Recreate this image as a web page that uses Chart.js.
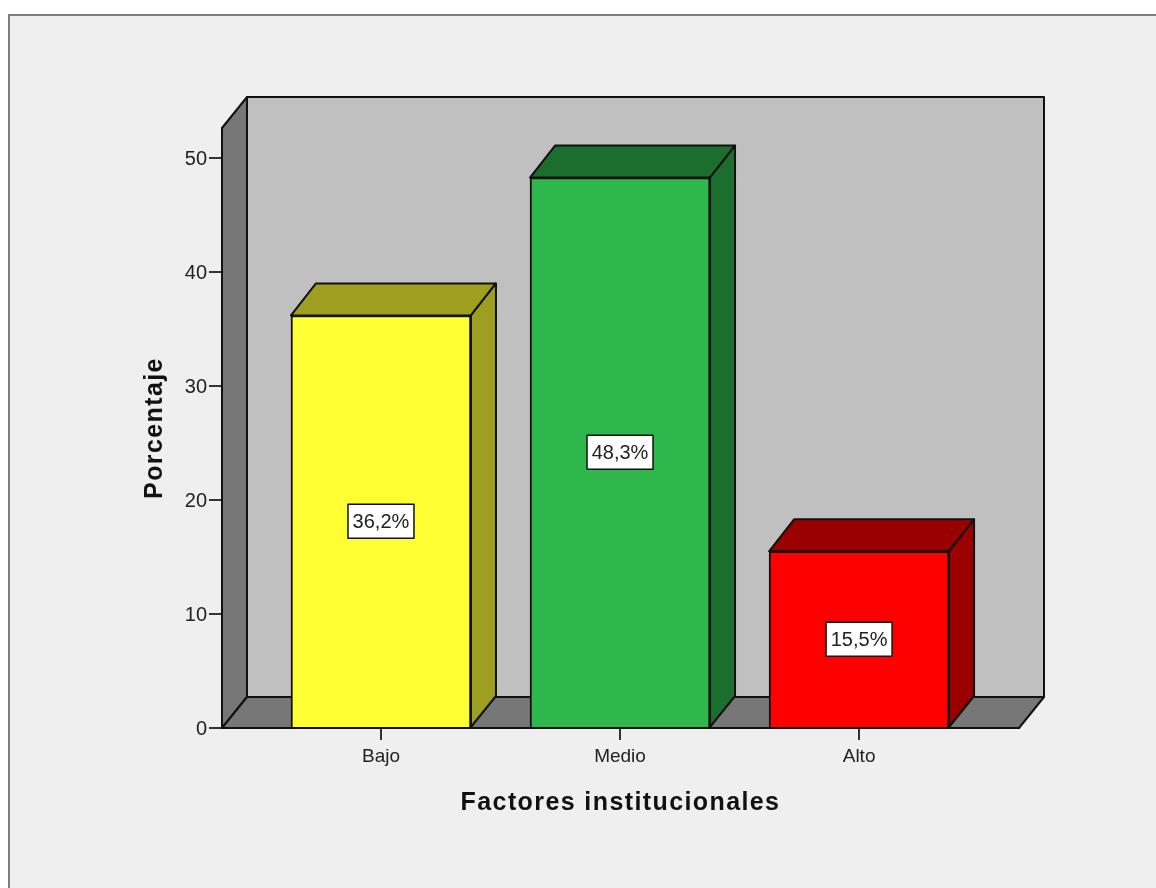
<!DOCTYPE html>
<html>
<head>
<meta charset="utf-8">
<script src="https://cdn.jsdelivr.net/npm/chart.js@4"></script>
<style>
  html, body { margin: 0; padding: 0; background: #fff; overflow: hidden; }
  #frame { position: absolute; left: 8px; top: 14px; width: 1148px; height: 874px; box-sizing: border-box;
           background: #efefef; border-top: 2px solid #7f7f7f; border-left: 2px solid #7f7f7f; }
  #chart { position: absolute; left: 0; top: 0; }
</style>
</head>
<body>
<div id="frame"></div>
<canvas id="chart" width="1156" height="888"></canvas>
<script>
const categories = ["Bajo", "Medio", "Alto"];
const percentages = [36.2, 48.3, 15.5];
const frontColors = ["#ffff33", "#2eb84c", "#ff0000"];
const sideColors = ["#9e9e20", "#1c6e2e", "#9b0000"];
const yTickValues = [0, 10, 20, 30, 40, 50];

// profundidad del efecto 3D, en pixeles
const depthX = 25;
const depthY = 31;
const lineColor = "#111111";

function poly(ctx, points, fill) {
  ctx.beginPath();
  points.forEach((p, i) => i ? ctx.lineTo(p[0], p[1]) : ctx.moveTo(p[0], p[1]));
  ctx.closePath();
  ctx.fillStyle = fill;
  ctx.fill();
  ctx.stroke();
}

// los titulos del original van algo espaciados
const titleSpacingPlugin = {
  id: "titleSpacing",
  beforeDraw(chart) {
    [chart.scales.x, chart.scales.y].forEach(scale => {
      const original = scale.drawTitle;
      scale.drawTitle = function () {
        this.ctx.letterSpacing = "1.4px";
        original.call(this);
        this.ctx.letterSpacing = "0px";
      };
    });
  }
};

// paredes y suelo detras de las barras
const wallsPlugin = {
  id: "walls",
  beforeDatasetsDraw(chart) {
    const { ctx, chartArea: a } = chart;
    ctx.save();
    ctx.lineWidth = 2;
    ctx.lineJoin = "round";
    ctx.strokeStyle = lineColor;
    poly(ctx, [[a.left + depthX, a.top - depthY], [a.right + depthX, a.top - depthY],
               [a.right + depthX, a.bottom - depthY], [a.left + depthX, a.bottom - depthY]], "#c0c0c0");
    poly(ctx, [[a.left, a.top], [a.left + depthX, a.top - depthY],
               [a.left + depthX, a.bottom - depthY], [a.left, a.bottom]], "#777777");
    poly(ctx, [[a.left, a.bottom], [a.left + depthX, a.bottom - depthY],
               [a.right + depthX, a.bottom - depthY], [a.right, a.bottom]], "#777777");
    ctx.restore();
  }
};

// caras laterales y etiquetas de valor
const facesPlugin = {
  id: "faces",
  afterDatasetsDraw(chart) {
    const ctx = chart.ctx;
    const bars = chart.getDatasetMeta(0).data;
    ctx.save();
    ctx.lineWidth = 2;
    ctx.lineJoin = "round";
    ctx.strokeStyle = lineColor;
    bars.forEach((bar, i) => {
      const l = bar.x - bar.width / 2;
      const r = bar.x + bar.width / 2;
      const topY = bar.y - depthY - 1;
      poly(ctx, [[l, bar.y], [l + depthX, topY], [r + depthX, topY], [r, bar.y]], sideColors[i]);
      poly(ctx, [[r, bar.y], [r + depthX, topY], [r + depthX, bar.base - depthY], [r, bar.base]], sideColors[i]);
    });
    ctx.font = "20px 'Liberation Sans'";
    ctx.textAlign = "center";
    ctx.textBaseline = "middle";
    bars.forEach((bar, i) => {
      const midY = (bar.y + bar.base) / 2;
      const text = percentages[i].toFixed(1).replace(".", ",") + "%";
      ctx.fillStyle = "#ffffff";
      ctx.lineWidth = 1.5;
      ctx.beginPath();
      ctx.rect(bar.x - 33, midY - 17, 66, 34);
      ctx.fill();
      ctx.stroke();
      ctx.fillStyle = "#222222";
      ctx.fillText(text, bar.x, midY + 1);
    });
    ctx.restore();
  }
};

new Chart(document.getElementById("chart"), {
  type: "bar",
  data: {
    datasets: [{
      data: percentages.map((v, i) => ({ x: i, y: v })),
      backgroundColor: frontColors,
      borderColor: lineColor,
      borderWidth: 2,
      barThickness: 180
    }]
  },
  plugins: [titleSpacingPlugin, wallsPlugin, facesPlugin],
  options: {
    responsive: false,
    animation: false,
    layout: { padding: { left: 140, top: 128, right: 137, bottom: 70 } },
    plugins: { legend: { display: false }, tooltip: { enabled: false } },
    scales: {
      x: {
        type: "linear",
        offset: false,
        min: -0.665,
        max: 2.669,
        afterBuildTicks: scale => { scale.ticks = categories.map((c, i) => ({ value: i })); },
        afterFit: scale => { scale.height = 90; },
        grid: { offset: false, drawOnChartArea: false, color: "#333333", lineWidth: 2, tickLength: 12 },
        border: { display: true, color: lineColor, width: 2 },
        ticks: {
          autoSkip: false,
          maxRotation: 0,
          padding: 5,
          color: "#222222",
          font: { family: "'Liberation Sans'", size: 19 },
          callback: value => categories[value]
        },
        title: {
          display: true,
          text: "Factores institucionales",
          color: "#111111",
          padding: { top: 16, bottom: 0 },
          font: { family: "'Liberation Sans'", size: 25, weight: "bold" }
        }
      },
      y: {
        min: 0,
        max: 52.65,
        afterBuildTicks: scale => { scale.ticks = yTickValues.map(v => ({ value: v })); },
        afterFit: scale => { scale.width = 82; },
        grid: { drawOnChartArea: false, color: "#333333", lineWidth: 2, tickLength: 13 },
        border: { display: true, color: lineColor, width: 2 },
        ticks: {
          padding: 2,
          labelOffset: 1,
          color: "#222222",
          font: { family: "'Liberation Sans'", size: 20 }
        },
        title: {
          display: true,
          text: "Porcentaje",
          color: "#111111",
          padding: 0,
          font: { family: "'Liberation Sans'", size: 25, weight: "bold" }
        }
      }
    }
  }
});
</script>
</body>
</html>
